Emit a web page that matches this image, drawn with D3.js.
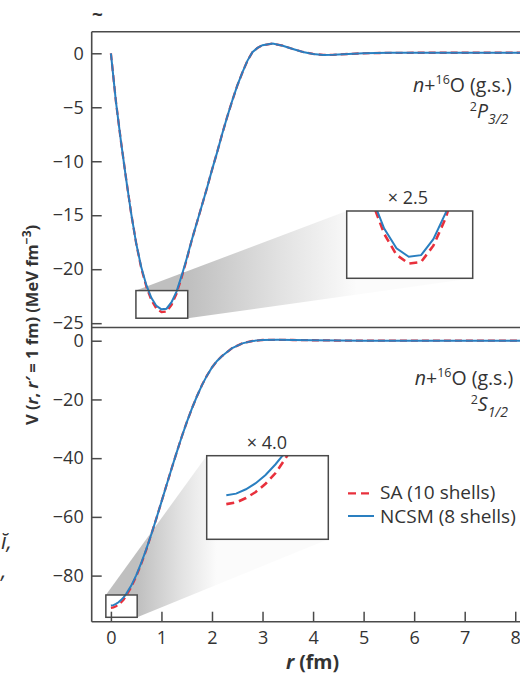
<!DOCTYPE html>
<html>
<head>
<meta charset="utf-8">
<script src="https://cdn.jsdelivr.net/npm/d3@7"></script>
<style>
  body { margin: 0; background: #fff; }
  svg { display: block; }
  text { font-family: "Open Sans", sans-serif; fill: #333; }
</style>
</head>
<body>
<svg id="chart" width="520" height="675"></svg>
<script>
// ---- data: nonlocal potential V(r, r' = 1 fm) for n + 16O (g.s.) ----
// 2P3/2 channel
const rP = [0, 0.1, 0.2, 0.3, 0.4, 0.5, 0.6, 0.7, 0.8, 0.9, 1.0, 1.1, 1.2, 1.3, 1.4, 1.5,
            1.6, 1.7, 1.8, 1.9, 2.0, 2.1, 2.2, 2.3, 2.4, 2.5, 2.6, 2.7, 2.8, 2.9, 3.0,
            3.2, 3.4, 3.6, 3.8, 4.0, 4.2, 4.4, 4.7, 5.0, 5.5, 6.0, 7.0, 8.0, 8.4];
const vP_NCSM = [0, -4.5, -8.2, -11.6, -14.8, -17.6, -19.8, -21.46, -22.65, -23.4, -23.72, -23.66,
                 -23.05, -22.05, -20.6, -19.0, -17.3, -15.7, -14.1, -12.5, -10.8, -9.2, -7.5, -5.9,
                 -4.4, -3.0, -1.8, -0.7, 0.1, 0.5, 0.75, 0.9, 0.7, 0.4, 0.12, -0.06, -0.15, -0.14,
                 -0.06, 0.0, 0.04, 0.05, 0.05, 0.05, 0.05];
const vP_SA   = [0, -4.5, -8.2, -11.6, -14.8, -17.6, -19.9, -21.6, -22.85, -23.65, -23.98, -23.92,
                 -23.3, -22.25, -20.75, -19.1, -17.3, -15.7, -14.1, -12.5, -10.8, -9.2, -7.5, -5.9,
                 -4.4, -3.0, -1.8, -0.7, 0.1, 0.5, 0.75, 0.9, 0.7, 0.4, 0.12, -0.06, -0.15, -0.14,
                 -0.06, 0.0, 0.04, 0.05, 0.05, 0.05, 0.05];

// 2S1/2 channel
const rS = [0, 0.05, 0.1, 0.15, 0.2, 0.25, 0.3, 0.4, 0.5, 0.6, 0.7, 0.8, 0.9, 1.0, 1.1, 1.2,
            1.3, 1.4, 1.5, 1.6, 1.7, 1.8, 1.9, 2.0, 2.1, 2.2, 2.4, 2.6, 2.8, 3.0, 3.3, 3.6,
            4.0, 4.5, 5.0, 6.0, 7.0, 8.0, 8.4];
const vS_NCSM = [-90.2, -90.05, -89.65, -89.1, -88.35, -87.4, -86.3, -83.5, -79.9, -75.7, -71.0,
                 -65.9, -60.5, -54.9, -49.2, -43.6, -38.1, -32.8, -27.8, -23.2, -19.0, -15.2,
                 -11.9, -9.1, -6.9, -5.2, -2.5, -0.9, -0.1, 0.25, 0.3, 0.25, 0.15, 0.05, 0, 0, 0, 0, 0];
const vS_SA   = [-91.0, -90.85, -90.45, -89.9, -89.15, -88.2, -86.9, -84.0, -80.3, -76.0, -71.2,
                 -65.9, -60.5, -54.9, -49.2, -43.6, -38.1, -32.8, -27.8, -23.2, -19.0, -15.2,
                 -11.9, -9.1, -6.9, -5.2, -2.5, -0.9, -0.1, 0.25, 0.3, 0.25, 0.15, 0.05, 0, 0, 0, 0, 0];

const xTicks  = [0, 1, 2, 3, 4, 5, 6, 7, 8];
const yTicksP = [0, -5, -10, -15, -20, -25];
const yTicksS = [0, -20, -40, -60, -80];
const seriesNames = ["SA (10 shells)", "NCSM (8 shells)"];
const zoomLabels = ["\u00d7 2.5", "\u00d7 4.0"];

// ---- layout ----
const svg = d3.select("#chart");
const plotLeft = 91.7, plotRight = 530.4;
const topY0 = 31.7, midY = 327.5, botY1 = 621.7;
const axisColor = "#4a4a4a";
const blue = "#2a7fc0", red = "#e8303c";

const x = d3.scaleLinear().domain([-0.38, 8.3]).range([plotLeft, plotRight]);
const yP = d3.scaleLinear().domain([-25.4, 2.0]).range([midY, topY0]);
const yS = d3.scaleLinear().domain([-95.7, 4.5]).range([botY1, midY]);

const defs = svg.append("defs");
defs.append("clipPath").attr("id", "clipP")
  .append("rect").attr("x", plotLeft).attr("y", topY0).attr("width", plotRight - plotLeft).attr("height", midY - topY0);
defs.append("clipPath").attr("id", "clipS")
  .append("rect").attr("x", plotLeft).attr("y", midY).attr("width", plotRight - plotLeft).attr("height", botY1 - midY);

function lineGen(xs, ys, rs) {
  return d3.line().x((d, i) => xs(rs[i])).y(d => ys(d));
}

// magnifier: shaded wedge joining the zoom window to its enlarged copy
function magnifier(id, yScale, rs, vSA, vNC, win, big, label, labelPos) {
  const sx0 = x(win.r[0]), sx1 = x(win.r[1]);
  const sy0 = yScale(win.v[1]), sy1 = yScale(win.v[0]);
  const g = svg.append("g");
  const grad = defs.append("linearGradient").attr("id", "grad" + id)
    .attr("gradientUnits", "userSpaceOnUse")
    .attr("x1", sx1).attr("y1", 0).attr("x2", big.x0 + 10).attr("y2", 0);
  grad.append("stop").attr("offset", 0).attr("stop-color", "#bfbfbf");
  grad.append("stop").attr("offset", 0.55).attr("stop-color", "#e2e2e2");
  grad.append("stop").attr("offset", 1).attr("stop-color", "#fbfbfb");
  const hull = [[sx0, sy0], [big.x0, big.y0], [big.x1, big.y0], [big.x1, big.y1], [sx1, sy1], [sx0, sy1]];
  g.append("polygon").attr("points", hull.map(p => p.join(",")).join(" "))
    .attr("fill", `url(#grad${id})`);
  g.append("rect").attr("x", sx0).attr("y", sy0).attr("width", sx1 - sx0).attr("height", sy1 - sy0)
    .attr("fill", "#fff");
  return { sx0, sx1, sy0, sy1, big, win, label, labelPos, rs, vSA, vNC };
}

function drawCurves(clip, yScale, rs, vSA, vNC) {
  const g = svg.append("g").attr("clip-path", `url(#${clip})`);
  g.append("path").datum(vSA).attr("d", lineGen(x, yScale, rs))
    .attr("fill", "none").attr("stroke", red).attr("stroke-width", 2.3).attr("stroke-dasharray", "7,4");
  g.append("path").datum(vNC).attr("d", lineGen(x, yScale, rs))
    .attr("fill", "none").attr("stroke", blue).attr("stroke-width", 2);
}

function finishMagnifier(m) {
  svg.append("rect").attr("x", m.sx0).attr("y", m.sy0).attr("width", m.sx1 - m.sx0).attr("height", m.sy1 - m.sy0)
    .attr("fill", "none").attr("stroke", axisColor).attr("stroke-width", 1.5);
  const b = m.big;
  svg.append("rect").attr("x", b.x0).attr("y", b.y0).attr("width", b.x1 - b.x0).attr("height", b.y1 - b.y0)
    .attr("fill", "#fff");
  const cid = "clipBig" + m.label.replace(/\W/g, "");
  defs.append("clipPath").attr("id", cid)
    .append("rect").attr("x", b.x0).attr("y", b.y0).attr("width", b.x1 - b.x0).attr("height", b.y1 - b.y0);
  const xi = d3.scaleLinear().domain(m.win.r).range([b.x0, b.x1]);
  const yi = d3.scaleLinear().domain(m.win.v).range([b.y1, b.y0]);
  const g = svg.append("g").attr("clip-path", `url(#${cid})`);
  g.append("path").datum(m.vSA).attr("d", lineGen(xi, yi, m.rs))
    .attr("fill", "none").attr("stroke", red).attr("stroke-width", 2.6).attr("stroke-dasharray", "8,5");
  g.append("path").datum(m.vNC).attr("d", lineGen(xi, yi, m.rs))
    .attr("fill", "none").attr("stroke", blue).attr("stroke-width", 2);
  svg.append("rect").attr("x", b.x0).attr("y", b.y0).attr("width", b.x1 - b.x0).attr("height", b.y1 - b.y0)
    .attr("fill", "none").attr("stroke", axisColor).attr("stroke-width", 1.5);
  svg.append("text").attr("x", m.labelPos[0]).attr("y", m.labelPos[1]).attr("text-anchor", "middle")
    .attr("font-size", 18).text(m.label);
}

const magP = magnifier("P", yP, rP, vP_SA, vP_NCSM,
  { r: [0.495, 1.52], v: [-24.54, -21.98] },
  { x0: 346.7, y0: 211, x1: 472.7, y1: 278.3 }, zoomLabels[0], [408, 203.5]);
const magS = magnifier("S", yS, rS, vS_SA, vS_NCSM,
  { r: [-0.1, 0.52], v: [-94.2, -86.6] },
  { x0: 206.7, y0: 455.7, x1: 328.3, y1: 539.3 }, zoomLabels[1], [267, 448.5]);

drawCurves("clipP", yP, rP, vP_SA, vP_NCSM);
drawCurves("clipS", yS, rS, vS_SA, vS_NCSM);
finishMagnifier(magP);
finishMagnifier(magS);

// ---- axes ----
const fmt = d3.format("");
function styleAxis(g) {
  g.select(".domain").remove();
  g.selectAll(".tick line").attr("stroke", axisColor).attr("stroke-width", 1.5);
  g.selectAll(".tick text").attr("fill", "#333").attr("font-size", 18)
    .attr("font-family", "'Open Sans', sans-serif");
}
svg.append("g").attr("transform", `translate(${plotLeft},0)`)
  .call(d3.axisRight(yP).tickValues(yTicksP).tickFormat(fmt).tickSize(10))
  .call(styleAxis).call(g => g.selectAll(".tick text").attr("text-anchor", "end").attr("x", -8));
svg.append("g").attr("transform", `translate(${plotLeft},0)`)
  .call(d3.axisRight(yS).tickValues(yTicksS).tickFormat(fmt).tickSize(10))
  .call(styleAxis).call(g => g.selectAll(".tick text").attr("text-anchor", "end").attr("x", -8));
svg.append("g").attr("transform", `translate(0,${botY1})`)
  .call(d3.axisTop(x).tickValues(xTicks).tickFormat(fmt).tickSize(10))
  .call(styleAxis).call(g => g.selectAll(".tick text").attr("y", 22).attr("dy", null));

// frame lines
const frame = svg.append("g").attr("stroke", axisColor).attr("stroke-width", 1.6).attr("fill", "none");
frame.append("line").attr("x1", plotLeft).attr("x2", plotLeft).attr("y1", topY0).attr("y2", botY1);
frame.append("line").attr("x1", plotLeft).attr("x2", plotRight).attr("y1", topY0).attr("y2", topY0);
frame.append("line").attr("x1", plotLeft).attr("x2", plotRight).attr("y1", midY).attr("y2", midY);
frame.append("line").attr("x1", plotLeft).attr("x2", plotRight).attr("y1", botY1).attr("y2", botY1);

// axis titles
const yl = svg.append("text").attr("transform", "translate(38,325) rotate(-90)")
  .attr("text-anchor", "middle").attr("font-weight", "bold").attr("font-size", 16.5);
yl.append("tspan").text("V (");
yl.append("tspan").attr("font-style", "italic").text("r");
yl.append("tspan").text(", ");
yl.append("tspan").attr("font-style", "italic").text("r\u2032");
yl.append("tspan").text(" = 1 fm) (MeV fm");
yl.append("tspan").attr("font-size", 12).attr("dy", -7).text("\u22123");
yl.append("tspan").attr("dy", 7).text(")");

const xl = svg.append("text").attr("x", 312.5).attr("y", 668.5).attr("text-anchor", "middle")
  .attr("font-weight", "bold").attr("font-size", 19.5);
xl.append("tspan").attr("font-style", "italic").text("r");
xl.append("tspan").text(" (fm)");

// channel annotations
function reaction(xr, yb) {
  const t = svg.append("text").attr("x", xr).attr("y", yb).attr("text-anchor", "end").attr("font-size", 19.5);
  t.append("tspan").attr("font-style", "italic").text("n");
  t.append("tspan").text("+");
  t.append("tspan").attr("font-size", 12.5).attr("dy", -8).text("16");
  t.append("tspan").attr("dy", 8).text("O (g.s.)");
}
function channel(xr, yb, letter, sub) {
  const t = svg.append("text").attr("x", xr).attr("y", yb).attr("text-anchor", "end").attr("font-size", 19.5);
  t.append("tspan").attr("font-size", 12.5).attr("dy", -7).text("2");
  t.append("tspan").attr("dy", 7).attr("font-style", "italic").text(letter);
  t.append("tspan").attr("dy", 6).attr("font-size", 14).attr("font-style", "italic").text(sub);
}
reaction(511.7, 91.7);
channel(508.3, 117.5, "P", "3/2");
reaction(513.3, 385);
channel(508, 410.5, "S", "1/2");

// legend
const leg = svg.append("g");
leg.append("line").attr("x1", 348).attr("x2", 374).attr("y1", 493.3).attr("y2", 493.3)
  .attr("stroke", red).attr("stroke-width", 2.3).attr("stroke-dasharray", "8,5");
leg.append("line").attr("x1", 348).attr("x2", 374).attr("y1", 516).attr("y2", 516)
  .attr("stroke", blue).attr("stroke-width", 2);
leg.append("text").attr("x", 380).attr("y", 499).attr("font-size", 19).text(seriesNames[0]);
leg.append("text").attr("x", 380).attr("y", 522.5).attr("font-size", 19).text(seriesNames[1]);

// stray page marks at the edges
svg.append("text").attr("x", 92).attr("y", 21).attr("font-weight", "bold").attr("font-size", 19)
  .attr("fill", "#444").text("~");
svg.append("text").attr("x", 1).attr("y", 549).attr("font-family", "'Liberation Serif', serif")
  .attr("font-style", "italic").attr("font-size", 22).text("\u012d,");
svg.append("text").attr("x", 1).attr("y", 578).attr("font-family", "'Liberation Serif', serif")
  .attr("font-style", "italic").attr("font-size", 22).text(",");
</script>
</body>
</html>
